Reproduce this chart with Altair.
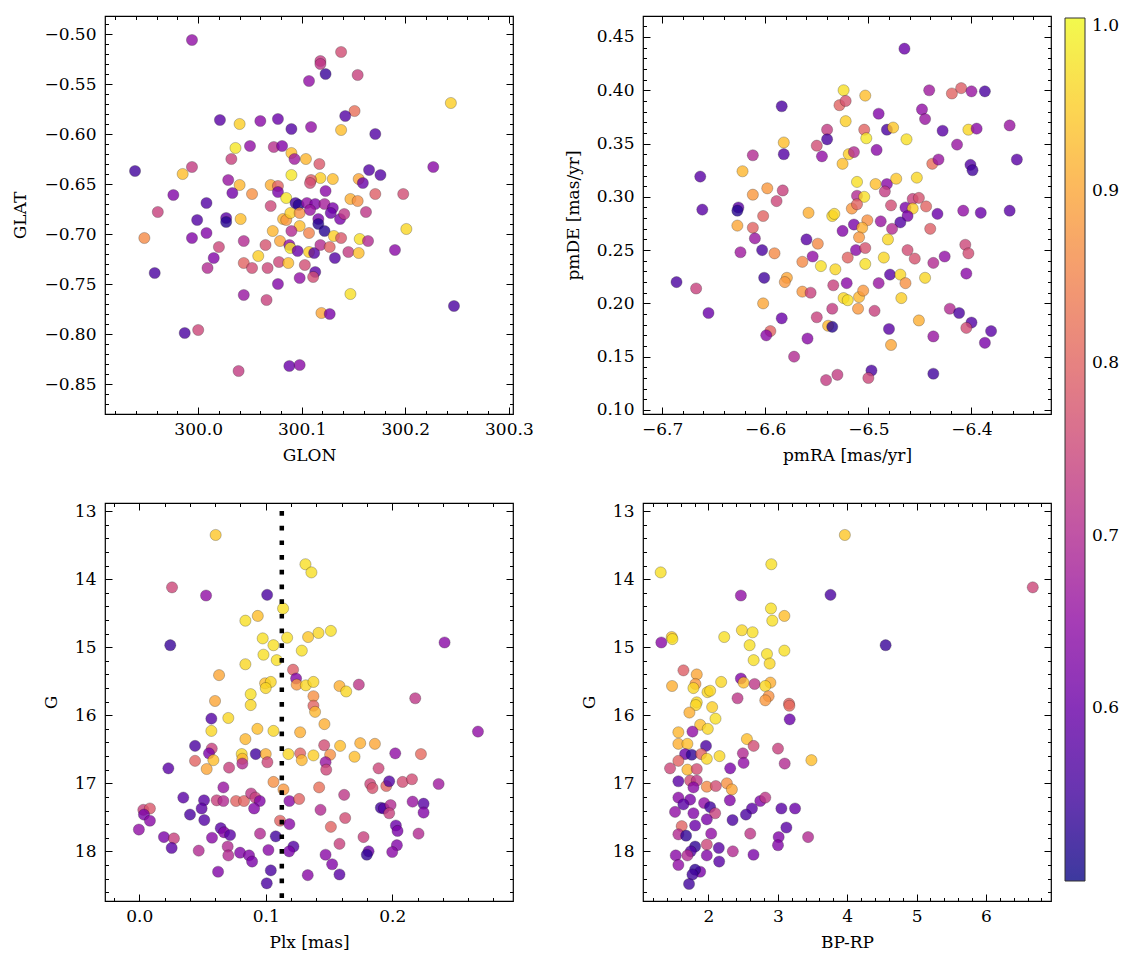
import altair as alt
import pandas as pd

# ---------------- data ----------------
# Panel 1: GLON / GLAT, membership probability
GLON = [299.994, 300.138, 300.118, 300.118, 300.123, 300.154, 300.107, 300.244, 300.151, 300.142,
        300.021, 300.040, 300.060, 300.077, 300.090, 300.109, 300.138, 300.171, 300.036, 300.050,
        300.073, 300.081, 300.090, 300.104, 300.093, 300.032, 300.117, 299.939, 299.994, 299.985,
        300.227, 300.165, 300.176, 300.090, 300.118, 300.130, 300.109, 300.108, 300.155, 300.159,
        300.029, 300.040, 300.033, 300.070, 300.077, 300.077, 300.123, 300.052, 300.171, 300.198,
        299.976, 300.085, 300.147, 300.154, 300.094, 300.097, 300.105, 300.113, 300.122, 300.130,
        300.128, 300.137, 300.141, 300.070, 300.008, 299.961, 299.999, 300.027, 300.027, 300.041,
        300.082, 300.085, 300.089, 300.098, 300.108, 300.116, 300.116, 300.162, 300.201, 300.098,
        300.072, 300.090, 300.008, 300.122, 299.948, 299.994, 300.044, 300.020, 300.015, 300.009,
        299.958, 300.044, 300.052, 300.065, 300.058, 300.079, 300.067, 300.078, 300.087, 300.088,
        300.089, 300.096, 300.103, 300.098, 300.107, 300.107, 300.112, 300.113, 300.111, 300.118,
        300.127, 300.131, 300.138, 300.132, 300.145, 300.155, 300.156, 300.164, 300.190, 300.077,
        300.044, 300.066, 300.147, 300.119, 300.127, 300.247, 299.987, 300.000, 300.039, 300.088,
        300.098]
GLAT = [-0.506, -0.518, -0.527, -0.530, -0.540, -0.541, -0.547, -0.569, -0.577, -0.582,
        -0.586, -0.590, -0.587, -0.585, -0.595, -0.593, -0.596, -0.600, -0.614, -0.612,
        -0.613, -0.612, -0.619, -0.625, -0.625, -0.625, -0.630, -0.637, -0.633, -0.640,
        -0.633, -0.636, -0.641, -0.641, -0.644, -0.645, -0.646, -0.649, -0.645, -0.649,
        -0.646, -0.651, -0.659, -0.651, -0.652, -0.658, -0.657, -0.660, -0.660, -0.660,
        -0.661, -0.664, -0.665, -0.667, -0.669, -0.671, -0.669, -0.670, -0.670, -0.674,
        -0.679, -0.685, -0.680, -0.672, -0.669, -0.678, -0.686, -0.684, -0.688, -0.685,
        -0.685, -0.686, -0.679, -0.679, -0.676, -0.685, -0.690, -0.678, -0.695, -0.692,
        -0.697, -0.697, -0.699, -0.697, -0.704, -0.704, -0.707, -0.713, -0.724, -0.734,
        -0.739, -0.729, -0.734, -0.711, -0.722, -0.707, -0.734, -0.728, -0.729, -0.711,
        -0.714, -0.717, -0.731, -0.744, -0.699, -0.718, -0.719, -0.738, -0.743, -0.711,
        -0.713, -0.702, -0.704, -0.724, -0.718, -0.719, -0.705, -0.707, -0.716, -0.750,
        -0.761, -0.766, -0.760, -0.779, -0.780, -0.772, -0.799, -0.796, -0.837, -0.832,
        -0.831]
P_POS = [0.65, 0.76, 0.73, 0.72, 0.54, 0.74, 0.65, 0.95, 0.82, 0.57,
         0.58, 0.95, 0.64, 0.60, 0.57, 0.65, 0.93, 0.57, 0.98, 0.65,
         0.71, 0.63, 0.93, 0.92, 0.67, 0.74, 0.78, 0.55, 0.73, 0.93,
         0.64, 0.57, 0.57, 0.98, 0.95, 0.93, 0.79, 0.76, 0.90, 0.60,
         0.66, 0.92, 0.61, 0.91, 0.80, 0.62, 0.64, 0.87, 0.79, 0.76,
         0.63, 0.98, 0.91, 0.87, 0.55, 0.52, 0.65, 0.63, 0.68, 0.62,
         0.60, 0.62, 0.72, 0.75, 0.57, 0.74, 0.57, 0.58, 0.52, 0.93,
         0.92, 0.88, 0.95, 0.87, 0.66, 0.62, 0.52, 0.72, 0.96, 0.93,
         0.92, 0.70, 0.63, 0.52, 0.86, 0.63, 0.70, 0.75, 0.63, 0.70,
         0.56, 0.80, 0.76, 0.77, 0.95, 0.90, 0.75, 0.75, 0.93, 0.65,
         0.98, 0.60, 0.76, 0.65, 0.85, 0.95, 0.57, 0.58, 0.76, 0.70,
         0.80, 0.95, 0.78, 0.57, 0.73, 0.93, 0.97, 0.70, 0.64, 0.63,
         0.66, 0.74, 0.97, 0.90, 0.62, 0.56, 0.56, 0.75, 0.73, 0.60,
         0.64]

# Panel 2: proper motions
PMRA = [-6.465, -6.524, -6.503, -6.528, -6.522, -6.584, -6.490, -6.441, -6.419, -6.410,
        -6.400, -6.387, -6.448, -6.445, -6.522, -6.540, -6.504, -6.482, -6.476, -6.502,
        -6.463, -6.428, -6.403, -6.395, -6.363, -6.540, -6.582, -6.550, -6.612, -6.582,
        -6.545, -6.519, -6.514, -6.492, -6.414, -6.356, -6.525, -6.438, -6.432, -6.401,
        -6.399, -6.663, -6.622, -6.511, -6.493, -6.482, -6.473, -6.453, -6.598, -6.612,
        -6.583, -6.589, -6.511, -6.504, -6.484, -6.457, -6.451, -6.661, -6.626, -6.627,
        -6.602, -6.558, -6.535, -6.533, -6.516, -6.511, -6.478, -6.464, -6.457, -6.462,
        -6.444, -6.433, -6.408, -6.391, -6.363, -6.514, -6.501, -6.488, -6.469, -6.440,
        -6.627, -6.612, -6.525, -6.506, -6.477, -6.610, -6.560, -6.549, -6.509, -6.481,
        -6.624, -6.603, -6.591, -6.564, -6.554, -6.546, -6.532, -6.520, -6.512, -6.503,
        -6.503, -6.485, -6.462, -6.455, -6.437, -6.426, -6.406, -6.403, -6.686, -6.667,
        -6.601, -6.579, -6.581, -6.564, -6.556, -6.534, -6.521, -6.524, -6.520, -6.509,
        -6.505, -6.490, -6.479, -6.469, -6.464, -6.445, -6.405, -6.468, -6.602, -6.655,
        -6.584, -6.550, -6.535, -6.510, -6.494, -6.421, -6.412, -6.400, -6.451, -6.539,
        -6.535, -6.595, -6.599, -6.480, -6.405, -6.381, -6.559, -6.437, -6.387, -6.478,
        -6.572, -6.497, -6.500, -6.530, -6.541, -6.437]
PMDE = [0.439, 0.400, 0.395, 0.386, 0.390, 0.385, 0.378, 0.400, 0.397, 0.402,
        0.399, 0.399, 0.382, 0.373, 0.371, 0.363, 0.363, 0.363, 0.365, 0.355,
        0.354, 0.362, 0.363, 0.364, 0.367, 0.354, 0.351, 0.348, 0.339, 0.340,
        0.338, 0.340, 0.342, 0.344, 0.349, 0.335, 0.331, 0.331, 0.335, 0.330,
        0.325, 0.319, 0.324, 0.314, 0.312, 0.312, 0.317, 0.318, 0.308, 0.302,
        0.306, 0.296, 0.301, 0.300, 0.305, 0.298, 0.299, 0.288, 0.290, 0.287,
        0.282, 0.285, 0.282, 0.284, 0.289, 0.293, 0.292, 0.290, 0.289, 0.282,
        0.291, 0.284, 0.287, 0.285, 0.287, 0.274, 0.278, 0.277, 0.276, 0.270,
        0.273, 0.271, 0.268, 0.271, 0.270, 0.261, 0.260, 0.256, 0.262, 0.260,
        0.248, 0.250, 0.247, 0.239, 0.244, 0.235, 0.232, 0.243, 0.250, 0.252,
        0.237, 0.243, 0.250, 0.242, 0.238, 0.244, 0.255, 0.247, 0.220, 0.214,
        0.224, 0.224, 0.220, 0.211, 0.210, 0.217, 0.219, 0.205, 0.203, 0.206,
        0.212, 0.219, 0.227, 0.227, 0.219, 0.224, 0.228, 0.205, 0.200, 0.191,
        0.186, 0.187, 0.195, 0.195, 0.193, 0.195, 0.191, 0.182, 0.184, 0.179,
        0.178, 0.174, 0.170, 0.176, 0.177, 0.174, 0.167, 0.169, 0.163, 0.161,
        0.150, 0.137, 0.130, 0.133, 0.128, 0.134]
P_PM = [0.60, 0.97, 0.93, 0.80, 0.77, 0.56, 0.63, 0.67, 0.80, 0.79,
        0.66, 0.56, 0.65, 0.66, 0.95, 0.73, 0.80, 0.56, 0.94, 0.98,
        0.97, 0.58, 0.96, 0.64, 0.66, 0.56, 0.93, 0.76, 0.70, 0.57,
        0.65, 0.95, 0.70, 0.64, 0.66, 0.58, 0.93, 0.82, 0.66, 0.57,
        0.55, 0.58, 0.92, 0.97, 0.93, 0.64, 0.94, 0.96, 0.88, 0.88,
        0.74, 0.75, 0.70, 0.97, 0.73, 0.74, 0.77, 0.58, 0.58, 0.52,
        0.80, 0.91, 0.96, 0.96, 0.88, 0.80, 0.76, 0.62, 0.95, 0.62,
        0.80, 0.60, 0.65, 0.60, 0.58, 0.62, 0.87, 0.66, 0.57, 0.79,
        0.90, 0.80, 0.63, 0.91, 0.70, 0.66, 0.58, 0.86, 0.88, 0.96,
        0.67, 0.56, 0.86, 0.86, 0.65, 0.97, 0.96, 0.80, 0.64, 0.77,
        0.97, 0.96, 0.76, 0.77, 0.70, 0.65, 0.75, 0.76, 0.56, 0.74,
        0.55, 0.90, 0.88, 0.88, 0.74, 0.74, 0.64, 0.96, 0.97, 0.92,
        0.88, 0.66, 0.58, 0.96, 0.87, 0.96, 0.64, 0.95, 0.90, 0.60,
        0.60, 0.74, 0.73, 0.88, 0.74, 0.70, 0.56, 0.57, 0.91, 0.92,
        0.52, 0.80, 0.64, 0.58, 0.76, 0.58, 0.64, 0.66, 0.62, 0.90,
        0.70, 0.56, 0.75, 0.73, 0.73, 0.55]

# Panel 3: parallax vs G
PLX = [0.0604, 0.1314, 0.1361, 0.0259, 0.0528, 0.1011, 0.1137, 0.0839, 0.0937, 0.0245,
       0.2414, 0.0976, 0.1061, 0.1169, 0.1335, 0.1417, 0.1515, 0.1285, 0.0982, 0.1087,
       0.0839, 0.1216, 0.1240, 0.0631, 0.0995, 0.1040, 0.1000, 0.1245, 0.1317, 0.1377,
       0.1583, 0.1636, 0.1736, 0.0881, 0.1377, 0.2182, 0.0599, 0.0881, 0.1377, 0.1390,
       0.0570, 0.0704, 0.0570, 0.0839, 0.0934, 0.1061, 0.1272, 0.1464, 0.2678, 0.0441,
       0.0573, 0.0551, 0.0586, 0.0533, 0.0441, 0.0230, 0.0810, 0.0815, 0.0815, 0.0710,
       0.0921, 0.1000, 0.1013, 0.1179, 0.1272, 0.1285, 0.1377, 0.1462, 0.1509, 0.1473,
       0.1478, 0.1588, 0.1702, 0.1747, 0.1863, 0.2024, 0.2227, 0.1892, 0.1061, 0.1140,
       0.1422, 0.1826, 0.1844, 0.1953, 0.1976, 0.2082, 0.2156, 0.2367, 0.0665, 0.0348,
       0.0512, 0.0612, 0.0665, 0.0765, 0.0828, 0.0884, 0.0918, 0.0953, 0.0908, 0.1187,
       0.1264, 0.1433, 0.1620, 0.1628, 0.1515, 0.1910, 0.1934, 0.1987, 0.1976, 0.2161,
       0.2248, 0.2248, 0.0032, 0.0084, 0.0037, 0.0084, -0.0003, 0.0401, 0.0493, 0.0514,
       0.0195, 0.0274, 0.0256, 0.0470, 0.0575, 0.0644, 0.0670, 0.0718, 0.0699, 0.0704,
       0.0797, 0.0868, 0.0892, 0.0955, 0.1021, 0.1079, 0.1113, 0.1187, 0.1219, 0.1185,
       0.0623, 0.1040, 0.1008, 0.1332, 0.1583, 0.1525, 0.1473, 0.1583, 0.1773, 0.1813,
       0.1799, 0.2029, 0.2042, 0.2037, 0.2000, 0.2208]
G_PLX = [13.35, 13.78, 13.90, 14.12, 14.24, 14.23, 14.43, 14.61, 14.54, 14.97,
         14.93, 14.87, 14.97, 14.86, 14.85, 14.79, 14.76, 15.05, 15.11, 15.19,
         15.25, 15.33, 15.46, 15.41, 15.53, 15.51, 15.60, 15.55, 15.56, 15.51,
         15.57, 15.65, 15.55, 15.69, 15.72, 15.75, 15.79, 15.85, 15.86, 15.95,
         16.05, 16.04, 16.23, 16.35, 16.20, 16.23, 16.25, 16.13, 16.24, 16.45,
         16.49, 16.56, 16.66, 16.79, 16.67, 16.78, 16.57, 16.64, 16.71, 16.77,
         16.57, 16.57, 16.69, 16.57, 16.56, 16.66, 16.59, 16.44, 16.58, 16.69,
         16.80, 16.45, 16.61, 16.41, 16.42, 16.56, 16.57, 16.78, 16.98, 17.09,
         17.06, 17.01, 17.07, 17.04, 16.97, 16.98, 16.94, 17.01, 17.06, 17.21,
         17.25, 17.25, 17.26, 17.26, 17.26, 17.15, 17.21, 17.26, 17.37, 17.26,
         17.23, 17.39, 17.17, 17.51, 17.64, 17.36, 17.37, 17.32, 17.44, 17.27,
         17.30, 17.43, 17.39, 17.37, 17.46, 17.55, 17.68, 17.46, 17.37, 17.54,
         17.79, 17.81, 17.95, 17.99, 17.80, 17.66, 17.72, 17.76, 17.93, 18.06,
         18.02, 18.06, 18.15, 17.74, 17.98, 17.78, 17.55, 17.60, 17.93, 18.00,
         18.30, 18.28, 18.47, 18.35, 18.34, 18.19, 18.05, 17.89, 17.79, 18.00,
         18.05, 17.62, 17.70, 17.91, 18.01, 17.74]
P_PLX = [0.94, 0.97, 0.97, 0.75, 0.65, 0.56, 0.97, 0.97, 0.93, 0.54,
         0.64, 0.97, 0.97, 0.97, 0.94, 0.96, 0.97, 0.97, 0.97, 0.97,
         0.96, 0.79, 0.63, 0.90, 0.93, 0.96, 0.96, 0.88, 0.96, 0.96,
         0.91, 0.96, 0.72, 0.97, 0.87, 0.72, 0.90, 0.96, 0.80, 0.92,
         0.57, 0.96, 0.96, 0.92, 0.93, 0.96, 0.91, 0.91, 0.65, 0.56,
         0.74, 0.62, 0.93, 0.90, 0.80, 0.58, 0.96, 0.92, 0.70, 0.74,
         0.55, 0.91, 0.75, 0.96, 0.80, 0.92, 0.95, 0.76, 0.87, 0.66,
         0.75, 0.93, 0.93, 0.91, 0.90, 0.65, 0.81, 0.75, 0.87, 0.88,
         0.82, 0.75, 0.77, 0.80, 0.57, 0.76, 0.76, 0.67, 0.66, 0.58,
         0.58, 0.74, 0.70, 0.80, 0.80, 0.72, 0.74, 0.63, 0.63, 0.64,
         0.80, 0.70, 0.72, 0.76, 0.80, 0.55, 0.57, 0.70, 0.74, 0.66,
         0.58, 0.63, 0.74, 0.78, 0.62, 0.64, 0.65, 0.56, 0.58, 0.57,
         0.62, 0.74, 0.58, 0.70, 0.64, 0.58, 0.63, 0.58, 0.70, 0.70,
         0.63, 0.63, 0.62, 0.70, 0.64, 0.55, 0.80, 0.64, 0.57, 0.62,
         0.63, 0.56, 0.56, 0.64, 0.58, 0.63, 0.64, 0.74, 0.74, 0.60,
         0.53, 0.60, 0.62, 0.63, 0.64, 0.70]
PLX_LINE = [0.1127]

# Panel 4: colour-magnitude diagram
BPRP = [3.966, 1.311, 2.906, 6.675, 2.467, 3.759, 2.901, 2.920, 3.094, 1.320,
        4.554, 1.470, 1.480, 2.227, 2.482, 2.636, 2.593, 2.843, 3.094, 2.651,
        2.882, 1.639, 2.467, 1.831, 1.475, 1.812, 1.783, 2.183, 2.506, 2.665,
        2.892, 2.819, 1.986, 2.024, 2.419, 2.867, 3.161, 1.831, 1.817, 1.725,
        2.053, 2.101, 2.819, 3.166, 3.171, 1.880, 1.990, 1.566, 1.769, 1.566,
        1.696, 1.964, 2.554, 2.651, 3.002, 3.484, 1.663, 1.759, 1.894, 1.976,
        2.159, 1.566, 1.446, 1.696, 1.831, 2.313, 2.496, 2.506, 3.099, 1.566,
        1.735, 1.831, 1.783, 1.976, 2.106, 2.265, 2.337, 1.566, 1.735, 1.638,
        1.937, 2.024, 2.096, 2.308, 2.747, 2.819, 2.627, 2.540, 3.051, 3.248,
        1.518, 1.783, 1.976, 2.347, 1.614, 1.807, 1.566, 1.677, 2.039, 1.976,
        2.602, 3.123, 3.012, 3.436, 3.002, 1.807, 1.745, 1.696, 1.528, 1.976,
        2.149, 2.351, 2.649, 1.566, 2.154, 1.880, 1.807, 1.769, 1.720]
G_CMD = [13.35, 13.90, 13.78, 14.12, 14.24, 14.23, 14.43, 14.61, 14.54, 14.93,
         14.97, 14.85, 14.88, 14.85, 14.75, 14.78, 14.97, 15.10, 15.05, 15.19,
         15.24, 15.34, 15.46, 15.40, 15.57, 15.54, 15.60, 15.51, 15.52, 15.54,
         15.52, 15.57, 15.66, 15.64, 15.75, 15.72, 15.83, 15.81, 15.85, 15.96,
         15.88, 16.05, 15.78, 15.86, 16.06, 16.14, 16.20, 16.25, 16.24, 16.42,
         16.42, 16.45, 16.35, 16.45, 16.49, 16.66, 16.57, 16.58, 16.57, 16.64,
         16.60, 16.67, 16.78, 16.80, 16.79, 16.78, 16.56, 16.70, 16.71, 16.97,
         16.96, 16.96, 17.06, 17.05, 17.04, 17.00, 17.09, 17.21, 17.24, 17.31,
         17.29, 17.35, 17.44, 17.25, 17.26, 17.21, 17.37, 17.46, 17.37, 17.37,
         17.42, 17.44, 17.53, 17.54, 17.63, 17.62, 17.75, 17.77, 17.74, 17.90,
         17.74, 17.65, 17.79, 17.79, 17.91, 17.93, 18.00, 18.06, 18.06, 18.06,
         17.95, 18.00, 18.05, 18.20, 18.15, 18.30, 18.27, 18.34, 18.48]
P_CMD = [0.94, 0.97, 0.97, 0.75, 0.65, 0.56, 0.97, 0.97, 0.93, 0.64,
         0.54, 0.94, 0.97, 0.97, 0.96, 0.97, 0.97, 0.97, 0.97, 0.97,
         0.96, 0.79, 0.63, 0.90, 0.91, 0.88, 0.96, 0.96, 0.93, 0.72,
         0.91, 0.96, 0.96, 0.96, 0.72, 0.87, 0.80, 0.96, 0.96, 0.91,
         0.95, 0.97, 0.88, 0.81, 0.60, 0.93, 0.96, 0.92, 0.65, 0.91,
         0.93, 0.56, 0.93, 0.76, 0.74, 0.93, 0.60, 0.53, 0.80, 0.96,
         0.96, 0.80, 0.75, 0.92, 0.76, 0.62, 0.70, 0.65, 0.70, 0.58,
         0.76, 0.72, 0.64, 0.86, 0.76, 0.87, 0.90, 0.64, 0.62, 0.58,
         0.65, 0.55, 0.74, 0.63, 0.63, 0.72, 0.58, 0.56, 0.58, 0.60,
         0.65, 0.63, 0.62, 0.56, 0.80, 0.60, 0.70, 0.53, 0.65, 0.75,
         0.72, 0.58, 0.63, 0.70, 0.63, 0.53, 0.57, 0.70, 0.64, 0.63,
         0.58, 0.70, 0.62, 0.65, 0.58, 0.62, 0.53, 0.55, 0.55]

COLORBAR_TICKS = [0.6, 0.7, 0.8, 0.9, 1.0]

# ---------------- styling ----------------
FONT = "DejaVu Serif"
FS = 17
W, H = 408, 398
MAJ, MIN = 7, 3.5


def tick_values(start, stop, step, skip=()):
    n = int(round((stop - start) / step))
    vals = [round(start + i * step, 6) for i in range(n + 1)]
    return [v for v in vals if all(abs(v - s) > 1e-9 for s in skip)]


color_enc = alt.Color(
    "p:Q",
    scale=alt.Scale(scheme="plasma", domain=[0.5, 1.0]),
    legend=alt.Legend(
        orient="none", legendX=960, legendY=2, direction="vertical",
        title=None, values=COLORBAR_TICKS, format=".1f",
        gradientLength=863, gradientThickness=20,
        gradientStrokeColor="black", gradientStrokeWidth=1, gradientOpacity=0.8,
        labelFont=FONT, labelFontSize=FS, labelColor="black", labelOffset=7,
        labelBaseline="middle",
    ),
)


def panel(df, xcol, ycol, xdom, ydom, xmaj, xmin, ymaj, ymin, xfmt, yfmt,
          xtitle, ytitle, yrev=False, extra=None):
    xs = alt.Scale(domain=xdom, nice=False, zero=False)
    ys = alt.Scale(domain=ydom, nice=False, zero=False, reverse=yrev)
    main = alt.Chart(df).mark_circle(
        size=125, opacity=0.8, stroke="black", strokeWidth=0.3
    ).encode(
        x=alt.X(f"{xcol}:Q", scale=xs, axis=alt.Axis(
            values=xmaj, format=xfmt, title=xtitle, ticks=False, domain=False,
            grid=False, labelPadding=7, titlePadding=10, labelFlush=False)),
        y=alt.Y(f"{ycol}:Q", scale=ys, axis=alt.Axis(
            values=ymaj, format=yfmt, title=ytitle, ticks=False, domain=False,
            grid=False, labelPadding=9, titlePadding=14, labelFlush=False)),
        color=color_enc,
    )

    def tick_layer(xo, yo, xv, yv, size):
        return alt.Chart(df).mark_point(opacity=0).encode(
            x=alt.X(f"{xcol}:Q", scale=xs, axis=alt.Axis(
                orient=xo, offset=-H, values=xv, labels=False, title=None,
                domain=False, grid=False, tickSize=size, tickWidth=1, tickColor="black")),
            y=alt.Y(f"{ycol}:Q", scale=ys, axis=alt.Axis(
                orient=yo, offset=-W, values=yv, labels=False, title=None,
                domain=False, grid=False, tickSize=size, tickWidth=1, tickColor="black")),
        )

    layers = [main,
              tick_layer("top", "right", xmaj, ymaj, MAJ),
              tick_layer("top", "right", xmin, ymin, MIN),
              tick_layer("bottom", "left", xmaj, ymaj, MAJ),
              tick_layer("bottom", "left", xmin, ymin, MIN)]
    if extra is not None:
        layers.append(extra(xs))
    return alt.layer(*layers).resolve_axis(x="independent", y="independent").properties(
        width=W, height=H)


df1 = pd.DataFrame({"GLON": GLON, "GLAT": GLAT, "p": P_POS})
df2 = pd.DataFrame({"pmRA": PMRA, "pmDE": PMDE, "p": P_PM})
df3 = pd.DataFrame({"Plx": PLX, "G": G_PLX, "p": P_PLX})
df4 = pd.DataFrame({"BPRP": BPRP, "G": G_CMD, "p": P_CMD})

p1 = panel(df1, "GLON", "GLAT", [299.91, 300.304], [-0.88, -0.482],
           [300.0, 300.1, 300.2, 300.3], tick_values(299.92, 300.30, 0.02, [300.0, 300.1, 300.2, 300.3]),
           tick_values(-0.85, -0.50, 0.05), tick_values(-0.87, -0.49, 0.01, tick_values(-0.85, -0.50, 0.05)),
           ".1f", ".2f", "GLON", "GLAT")

p2 = panel(df2, "pmRA", "pmDE", [-6.7185, -6.3229], [0.0962, 0.4697],
           [-6.7, -6.6, -6.5, -6.4], tick_values(-6.70, -6.34, 0.02, [-6.7, -6.6, -6.5, -6.4]),
           tick_values(0.10, 0.45, 0.05), tick_values(0.10, 0.46, 0.01, tick_values(0.10, 0.45, 0.05)),
           ".1f", ".2f", "pmRA [mas/yr]", "pmDE [mas/yr]")


def plx_line(xs):
    return alt.Chart(pd.DataFrame({"Plx": PLX_LINE})).mark_rule(
        color="black", strokeWidth=4.5, strokeDash=[4.7, 10], strokeDashOffset=6.7, strokeCap="butt"
    ).encode(x=alt.X("Plx:Q", scale=xs, axis=None))


G_MAJ = [13, 14, 15, 16, 17, 18]
G_MIN = tick_values(13.0, 18.6, 0.2, G_MAJ)

p3 = panel(df3, "Plx", "G", [-0.0271, 0.2955], [12.88, 18.73],
           [0.0, 0.1, 0.2], tick_values(-0.02, 0.28, 0.02, [0.0, 0.1, 0.2]),
           G_MAJ, G_MIN, ".1f", "d", "Plx [mas]", "G", yrev=True, extra=plx_line)

p4 = panel(df4, "BPRP", "G", [1.056, 6.938], [12.88, 18.73],
           [2, 3, 4, 5, 6], tick_values(1.2, 6.8, 0.2, [2, 3, 4, 5, 6]),
           G_MAJ, G_MIN, "d", "d", "BP-RP", "G", yrev=True)

chart = alt.concat(
    p1, p2, p3, p4, columns=2, spacing={"row": 89, "column": 130}, bounds="flush"
).properties(
    padding={"left": 3, "top": 6, "right": 5, "bottom": 5},
    background="white",
).configure_view(
    stroke="black", strokeWidth=1.2
).configure_axis(
    labelFont=FONT, titleFont=FONT, labelFontSize=FS, titleFontSize=FS,
    labelColor="black", titleColor="black", titleFontWeight="normal",
)

chart.save("out.html", embed_options={"renderer": "svg", "actions": False})
